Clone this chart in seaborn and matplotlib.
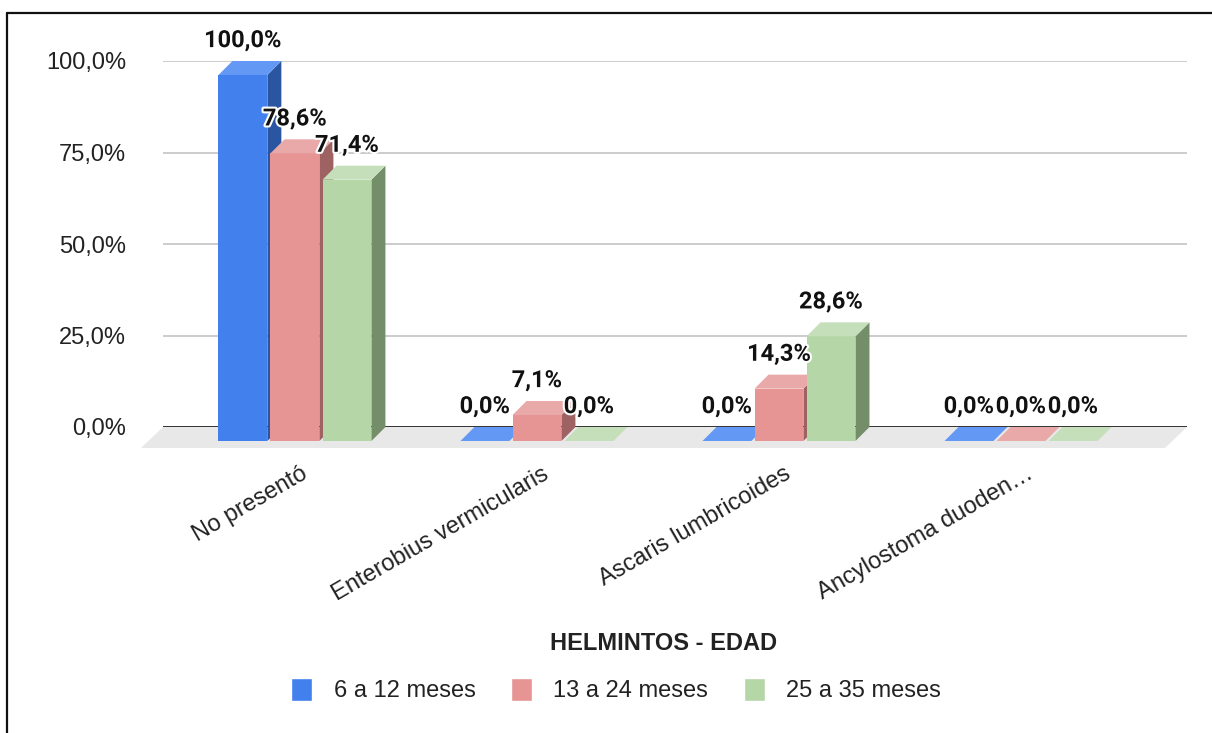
import numpy as np
import pandas as pd
import matplotlib
matplotlib.use('Agg')
import matplotlib.pyplot as plt
import matplotlib.patheffects as pe
from matplotlib.patches import Polygon
from matplotlib.lines import Line2D
from matplotlib.transforms import ScaledTranslation
import seaborn as sns

# data (percent)
categories = ["No presentó", "Enterobius vermicularis", "Ascaris lumbricoides", "Ancylostoma duoden…"]
age_groups = ["6 a 12 meses", "13 a 24 meses", "25 a 35 meses"]
pct_6_12 = [100.0, 0.0, 0.0, 0.0]
pct_13_24 = [78.6, 7.1, 14.3, 0.0]
pct_25_35 = [71.4, 0.0, 28.6, 0.0]
y_ticks = [0, 25, 50, 75, 100]

front_colors = ['#4280EE', '#E69494', '#B5D6A6']
side_colors = ['#2A55A0', '#9E6262', '#758E6A']
top_colors = ['#6399F5', '#EAA9A9', '#C4DFB9']

df = pd.DataFrame({
    'Helminto': categories * 3,
    'Edad': np.repeat(age_groups, len(categories)),
    'Porcentaje': pct_6_12 + pct_13_24 + pct_25_35,
})


def pct(v):
    return f'{v:.1f}%'.replace('.', ',')


sns.set_theme(style='white')
plt.rcParams['font.family'] = ['Liberation Sans', 'DejaVu Sans']

W, H = 1212, 733
fig = plt.figure(figsize=(W / 100, H / 100), dpi=100)
ax = fig.add_axes([163 / W, 306 / H, 1024 / W, 366 / H])

sns.barplot(data=df, x='Helminto', y='Porcentaje', hue='Edad', palette=front_colors,
            width=0.645, gap=0.06, saturation=1, ax=ax)

ax.set_xlim(-0.603, 3.628)
ax.set_ylim(0, 100)
ax.set_yticks(y_ticks)
ax.set_yticklabels([pct(v) for v in y_ticks])
ax.set_xticks(range(len(categories)))
ax.set_xticklabels(categories, rotation=30, ha='right', rotation_mode='anchor')
ax.tick_params(axis='x', length=0, pad=26, labelsize=17, labelcolor='#222222')
ax.tick_params(axis='y', length=0, pad=26.5, labelsize=17, labelcolor='#222222')
# labels sit a little left of the category centre, like the original
shift = ScaledTranslation(-0.09, 0, fig.dpi_scale_trans)
for lbl in ax.get_xticklabels():
    lbl.set_transform(lbl.get_transform() + shift)
ax.set_xlabel('')
ax.set_ylabel('')
for s in ax.spines.values():
    s.set_visible(False)
ax.grid(axis='y', color='#cccccc', lw=1.4)
ax.set_axisbelow(True)
ax.axhline(0, color='#333333', lw=1.4, zorder=2)

# pixel -> data sizes for the fake 3d depth
p0 = ax.transData.transform((0, 0))
p1 = ax.transData.transform((1, 1))
sx, sy = p1[0] - p0[0], p1[1] - p0[1]
dx, dy = 14 / sx, 14 / sy
fdx, fdy = 22 / sx, 21 / sy

xl, xr = ax.get_xlim()
ax.add_patch(Polygon([(xl, 0), (xr, 0), (xr - fdx, -fdy), (xl - fdx, -fdy)],
                     closed=True, fc='#e8e8e8', lw=0, clip_on=False, zorder=1.5))

for i, cont in enumerate(ax.containers):
    for j, bar in enumerate(cont):
        x, w, h = bar.get_x(), bar.get_width(), bar.get_height()
        z = 3 + (j * 3 + i) * 0.1
        bar.set_x(x - dx)
        bar.set_y(-dy)
        bar.set_linewidth(0)
        bar.set_clip_on(False)
        bar.set_zorder(z)
        ax.add_patch(Polygon([(x + w - dx, -dy), (x + w, 0), (x + w, h), (x + w - dx, h - dy)],
                             closed=True, fc=side_colors[i], lw=0, clip_on=False, zorder=z + 0.01))
        ax.add_patch(Polygon([(x - dx, h - dy), (x + w - dx, h - dy), (x + w, h), (x, h)],
                             closed=True, fc=top_colors[i], lw=0, clip_on=False, zorder=z + 0.02))
        ax.annotate(pct(h), (x - dx + w / 2, h), xytext=(0, 10), textcoords='offset points',
                    ha='center', va='baseline', fontsize=17, fontweight='bold',
                    family=['Roboto', 'DejaVu Sans'], color='#111111', zorder=20,
                    annotation_clip=False,
                    path_effects=[pe.withStroke(linewidth=3, foreground='white')])

handles, labels = ax.get_legend_handles_labels()
ax.legend(handles, labels, loc='center', bbox_to_anchor=(616 / W, 1 - 690 / H),
          bbox_transform=fig.transFigure, ncol=3, frameon=False, fontsize=17,
          handlelength=0.9, handleheight=1.15, handletextpad=0.9, columnspacing=1.5,
          labelcolor='#222222')

fig.text(664 / W, 1 - 643 / H, 'HELMINTOS - EDAD', ha='center', va='center',
         fontsize=17, fontweight='bold', color='#222222')

# frame left/top (cropped screenshot)
fig.add_artist(Line2D([7 / W, 7 / W], [0, 1 - 13 / H], transform=fig.transFigure, color='#111111', lw=1.6))
fig.add_artist(Line2D([7 / W, 1], [1 - 13 / H, 1 - 13 / H], transform=fig.transFigure, color='#111111', lw=1.6))

fig.savefig('out.png', dpi=100)
